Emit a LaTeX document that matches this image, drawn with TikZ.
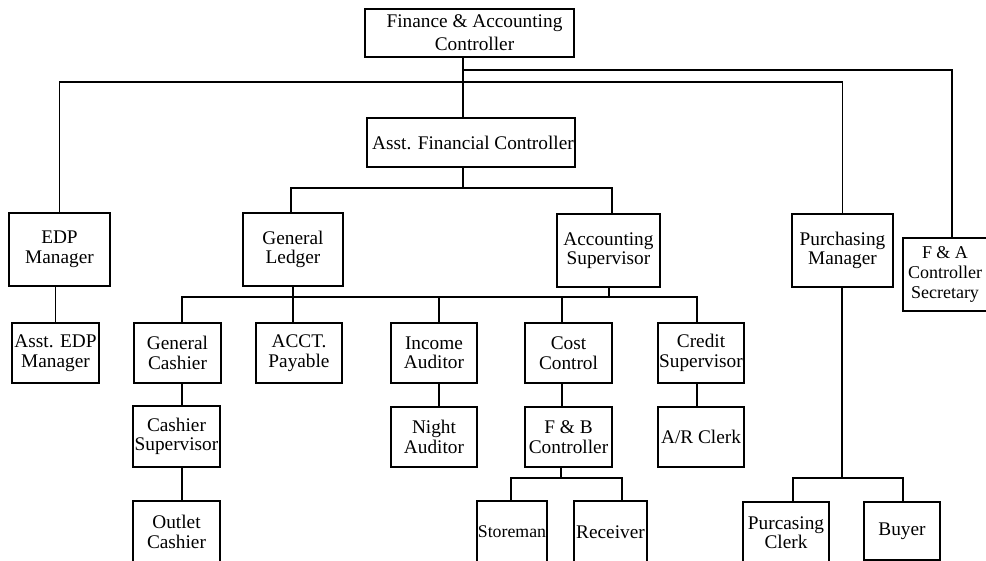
\documentclass[tikz,border=0pt]{standalone}
\usepackage{fontspec}
\setmainfont{Liberation Serif}
\tikzset{
  orgbox/.style={draw, line width=1.2pt, inner sep=0pt, align=center,
    font=\fontsize{19.3}{19.5}\selectfont},
  conn/.style={line width=1.2pt}
}
\newcommand\obx[7][]{\node[orgbox,#1,minimum width=#5pt-#3pt,minimum height=#6pt-#4pt] (#2) at ({(#3+#5)/2},{(#4+#6)/2}) {#7};}
\begin{document}
\begin{tikzpicture}[x=1pt,y=-1pt]
\useasboundingbox (0,0) rectangle (986,560);
\clip (0,0) rectangle (986,560);
% boxes
\obx[font=\fontsize{19.3}{23}\selectfont]{top}{365}{9}{574}{57}{\hspace*{10pt}Finance \& Accounting\\\hspace*{10pt}Controller}
\obx{afc}{367}{118}{575}{167}{\hspace*{4pt}Asst. Financial Controller}
\obx{edp}{9}{213}{110}{286}{EDP\\Manager}
\obx{gl}{243}{213}{343}{286}{General\\Ledger}
\obx{as}{557}{214}{660}{287}{Accounting\\Supervisor}
\obx{pm}{792}{214}{893}{287}{Purchasing\\Manager}
\obx{fas}{903}{238}{1001}{311}{}
\node[font=\fontsize{18}{20}\selectfont, align=center, inner sep=0pt] (fast) at (945,274.5) {F \& A\\Controller\\Secretary};
\obx{aedp}{12}{323}{99}{383}{Asst. EDP\\Manager}
\obx{gc}{134}{323}{221}{383}{General\\Cashier}
\obx{ap}{256}{323}{342}{383}{ACCT.\\Payable}
\obx{ia}{391}{323}{477}{383}{Income\\Auditor}
\obx{cc}{525}{323}{612}{383}{Cost\\Control}
\obx{cs}{658}{323}{744}{383}{Credit\\Supervisor}
\obx{csup}{133}{406}{220}{467}{Cashier\\Supervisor}
\obx{na}{391}{407}{477}{467}{Night\\Auditor}
\obx{fb}{525}{407}{612}{467}{F \& B\\Controller}
\obx{ar}{658}{407}{744}{467}{A/R Clerk}
\obx{oc}{133}{501}{220}{563}{Outlet\\Cashier}
\obx[font=\fontsize{17.8}{19.5}\selectfont]{st}{477}{501}{547}{563}{Storeman}
\obx{rc}{574}{501}{647}{563}{Receiver}
\obx{pc}{743}{502}{829}{563}{Purcasing\\Clerk}
\obx{buy}{864}{502}{940}{560}{Buyer}
% junction coordinates
\coordinate (tr) at (463,70);
\coordinate (tl) at (463,82);
\coordinate (ta) at (463,188);
\coordinate (ga) at (291,188);
\coordinate (gb) at (612,188);
\coordinate (lv) at (293,297);
\coordinate (lvs) at (609,297);
\coordinate (d1) at (182,297);
\coordinate (d3) at (439,297);
\coordinate (d4) at (562,297);
\coordinate (d5) at (697,297);
\coordinate (fbj) at (561,478);
\coordinate (fbl) at (511,478);
\coordinate (fbr) at (622,478);
\coordinate (pmj) at (842,478);
\coordinate (pml) at (793,478);
\coordinate (pmr) at (903,478);
% connectors
\draw[conn] (top.south -| tr) -- (afc.north -| tr);
\draw[conn] (tr) -| (fas.north);
\draw[conn] (edp.north) |- (pm.north |- tl) -- (pm.north);
\draw[conn] (afc.south -| ta) -- (ta);
\draw[conn] (ga |- gl.north) -- (ga) -- (gb) -- (gb |- as.north);
\draw[conn] (gl.south -| lv) -- (lv);
\draw[conn] (as.south -| lvs) -- (lvs);
\draw[conn] (d1 |- gc.north) -- (d1) -- (d5) -- (d5 |- cs.north);
\draw[conn] (lv) -- (lv |- ap.north);
\draw[conn] (d3) -- (d3 |- ia.north);
\draw[conn] (d4) -- (d4 |- cc.north);
\draw[conn] (edp.south -| aedp.north) -- (aedp.north);
\draw[conn] (gc.south -| d1) -- (csup.north -| d1);
\draw[conn] (csup.south -| d1) -- (oc.north -| d1);
\draw[conn] (ia.south -| d3) -- (na.north -| d3);
\draw[conn] (cc.south -| d4) -- (fb.north -| d4);
\draw[conn] (cs.south -| d5) -- (ar.north -| d5);
\draw[conn] (fb.south -| fbj) -- (fbj);
\draw[conn] (fbl |- st.north) -- (fbl) -- (fbr) -- (fbr |- rc.north);
\draw[conn] (pm.south -| pmj) -- (pmj);
\draw[conn] (pml |- pc.north) -- (pml) -- (pmr) -- (pmr |- buy.north);
\end{tikzpicture}
\end{document}
